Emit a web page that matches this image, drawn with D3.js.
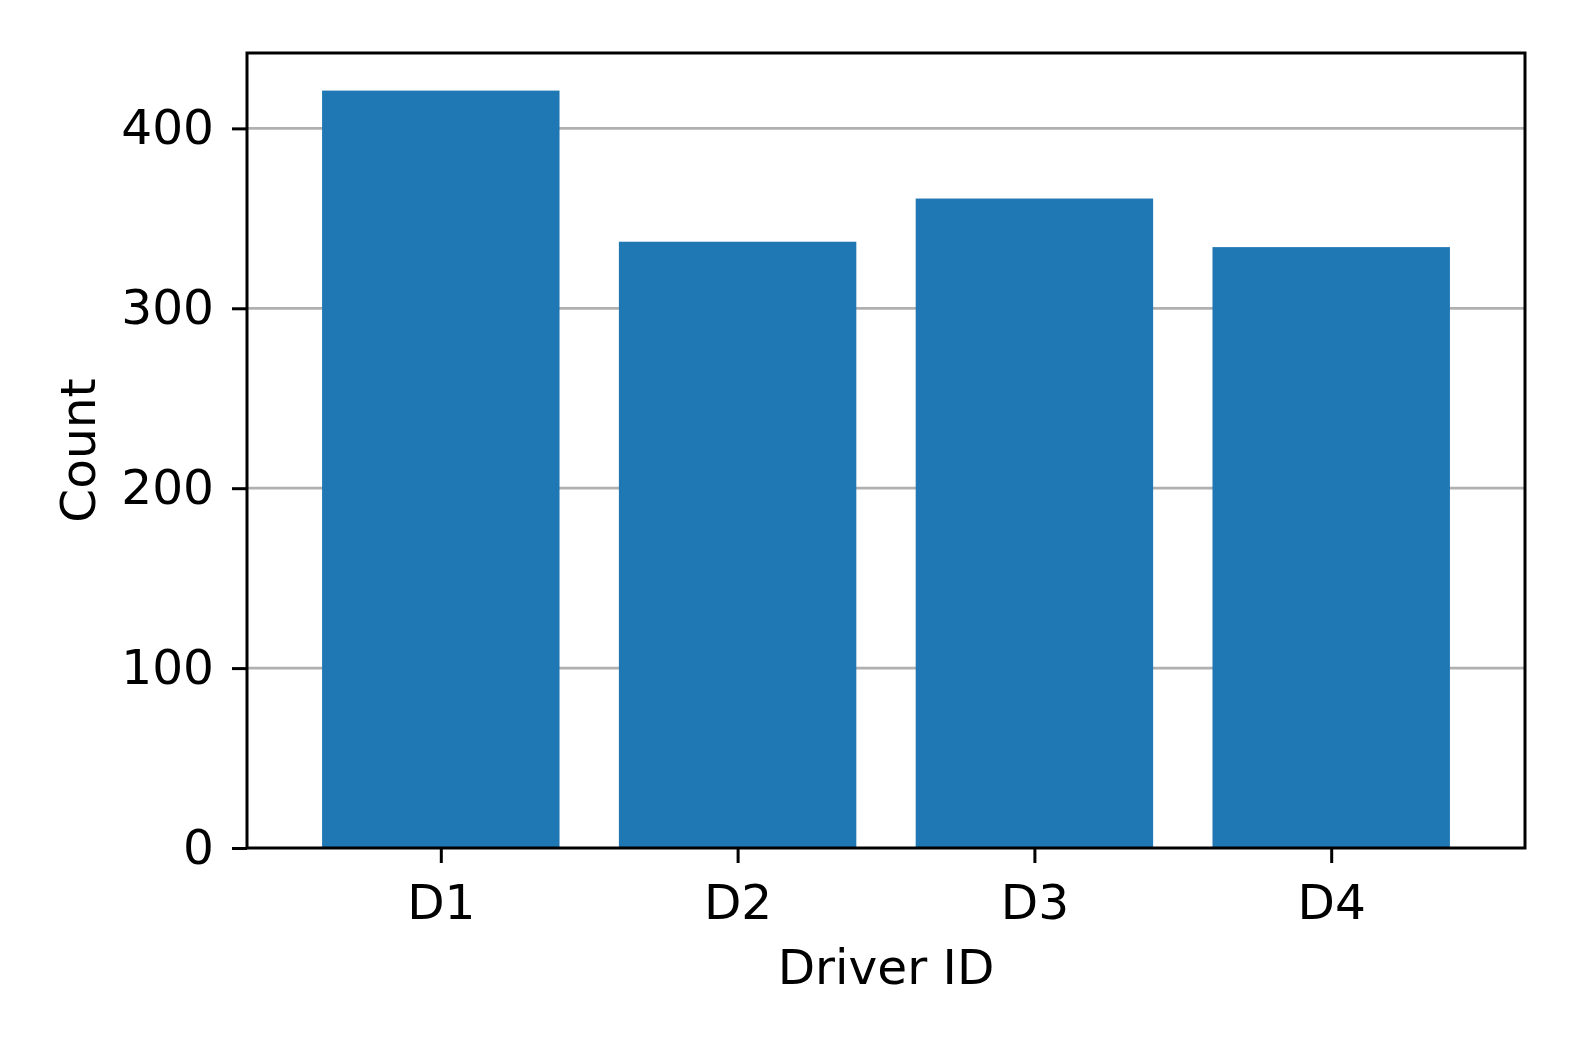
<!DOCTYPE html>
<html><head><meta charset="utf-8">
<script src="https://cdn.jsdelivr.net/npm/d3@7"></script>
<style>body{margin:0;background:#fff}svg{display:block}text{font-family:"DejaVu Sans",sans-serif;fill:#000}</style>
</head><body>
<script>
const categories = ["D1","D2","D3","D4"];
const counts = [421, 337, 361, 334];
const yTicks = [0,100,200,300,400];

const W=1578,H=1052;
const L=247,R=1525,T=53,B=848;
const svg=d3.select("body").append("svg").attr("width",W).attr("height",H);
const idx=categories.map((d,i)=>i);
const x=d3.scaleLinear().domain([-0.653,3.653]).range([L,R]);
const y=d3.scaleLinear().domain([0,441.9]).range([B,T]);

// grid
svg.append("g").selectAll("line").data(yTicks.filter(d=>d>0)).join("line")
 .attr("x1",L).attr("x2",R).attr("y1",d=>y(d)).attr("y2",d=>y(d))
 .attr("stroke","#b0b0b0").attr("stroke-width",2.8);

// bars
const bw=0.8;
svg.append("g").selectAll("rect").data(counts).join("rect")
 .attr("x",(d,i)=>x(i-bw/2)).attr("width",(d,i)=>x(i+bw/2)-x(i-bw/2))
 .attr("y",d=>y(d)).attr("height",d=>y(0)-y(d)).attr("fill","#1f77b4");

// axes
const fs=48.6;
const yAxis=d3.axisLeft(y).tickValues(yTicks).tickSize(15).tickPadding(18);
const gy=svg.append("g").attr("transform",`translate(${L},0)`).call(yAxis);
const xAxis=d3.axisBottom(x).tickValues(idx).tickFormat(i=>categories[i]).tickSize(15).tickPadding(21);
const gx=svg.append("g").attr("transform",`translate(0,${B})`).call(xAxis);
[gx,gy].forEach(g=>{g.select(".domain").remove();
 g.selectAll(".tick line").attr("stroke","#000").attr("stroke-width",3);
 g.selectAll("text").attr("font-size",fs).attr("font-family","DejaVu Sans").attr("fill","#000");});

// frame
svg.append("rect").attr("x",L).attr("y",T).attr("width",R-L).attr("height",B-T)
 .attr("fill","none").attr("stroke","#000").attr("stroke-width",3);

svg.append("text").attr("x",(L+R)/2).attr("y",984).attr("text-anchor","middle").attr("font-size",fs).text("Driver ID");
svg.append("text").attr("transform",`translate(95,${(T+B)/2}) rotate(-90)`).attr("text-anchor","middle").attr("font-size",fs).text("Count");
</script>
</body></html>
